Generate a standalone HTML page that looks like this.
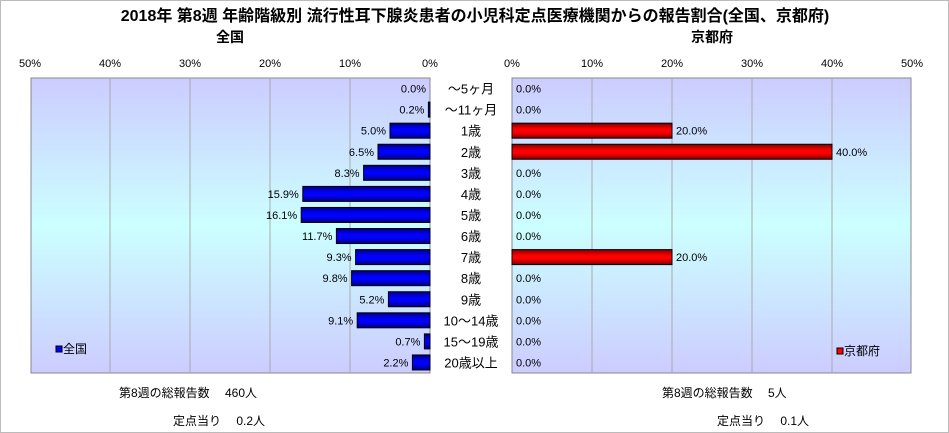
<!DOCTYPE html><html><head><meta charset="utf-8"><style>
body{margin:0;background:#fff;font-family:"Liberation Sans","Noto Sans CJK JP",sans-serif;}
#w{position:relative;width:947px;height:431px;border:1px solid #bbb;overflow:hidden}
</style></head><body><div id="w">
<svg id="s" width="947" height="431">
<defs>
<linearGradient id="bg" x1="0" y1="0" x2="0" y2="1"><stop offset="0" stop-color="#ccccff"/><stop offset="0.5" stop-color="#ccffff"/><stop offset="1" stop-color="#ccccff"/></linearGradient>
<linearGradient id="gb" x1="0" y1="0" x2="0" y2="1"><stop offset="0" stop-color="#000080"/><stop offset="0.4" stop-color="#0000ff"/><stop offset="0.6" stop-color="#0000ff"/><stop offset="1" stop-color="#000080"/></linearGradient>
<linearGradient id="gr" x1="0" y1="0" x2="0" y2="1"><stop offset="0" stop-color="#800000"/><stop offset="0.4" stop-color="#ff0000"/><stop offset="0.6" stop-color="#ff0000"/><stop offset="1" stop-color="#800000"/></linearGradient>
</defs>
<text x="474" y="20" font-size="16" font-weight="bold" text-anchor="middle">2018年 第8週 年齢階級別 流行性耳下腺炎患者の小児科定点医療機関からの報告割合(全国、京都府)</text>
<text x="229" y="41" font-size="14" font-weight="bold" text-anchor="middle">全国</text>
<text x="711" y="41" font-size="14" font-weight="bold" text-anchor="middle">京都府</text>
<g id="g"></g>
<text x="118" y="396" font-size="12">第8週の総報告数　 460人</text>
<text x="172" y="424" font-size="12">定点当り　 0.2人</text>
<text x="661" y="396" font-size="12">第8週の総報告数　 5人</text>
<text x="716" y="424" font-size="12">定点当り　 0.1人</text>
</svg></div>
<script>
const categories=["～5ヶ月","～11ヶ月","1歳","2歳","3歳","4歳","5歳","6歳","7歳","8歳","9歳","10～14歳","15～19歳","20歳以上"];
const nationalValues=[0.0,0.2,5.0,6.5,8.3,15.9,16.1,11.7,9.3,9.8,5.2,9.1,0.7,2.2];
const kyotoValues=[0,0,20,40,0,0,0,0,20,0,0,0,0,0];
const tickValues=[0,10,20,30,40,50];
const NS="http://www.w3.org/2000/svg",g=document.getElementById('g');
function el(t,a,txt){const e=document.createElementNS(NS,t);for(const k in a)e.setAttribute(k,a[k]);if(txt!=null)e.textContent=txt;g.appendChild(e);return e;}
const y0=77,y1=372,rowH=(y1-y0)/categories.length,kx=8;
const xl=v=>429-v*kx, xr=v=>511+v*kx, yc=i=>y0+rowH*(i+0.5);
let e;
e=el('rect',{x:30,y:y0,width:399,height:y1-y0,fill:'url(#bg)',stroke:'#888'});


e=el('rect',{x:511,y:y0,width:399,height:y1-y0,fill:'url(#bg)',stroke:'#888'});


tickValues.forEach(v=>{
 if(v>0&&v<50){el('line',{x1:xl(v),x2:xl(v),y1:y0,y2:y1,stroke:'#aaa'});el('line',{x1:xr(v),x2:xr(v),y1:y0,y2:y1,stroke:'#aaa'});}
 e=el('text',{x:xl(v),y:66,'font-size':11,'text-anchor':'middle'},v+'%');
 
 
 e=el('text',{x:xr(v),y:66,'font-size':11,'text-anchor':'middle'},v+'%');
 
 
});
el('rect',{x:430,y:y0-1,width:80,height:y1-y0+2,fill:'#fff'});
categories.forEach((c,i)=>{
 const y=yc(i),v=nationalValues[i],r=kyotoValues[i];
 e=el('text',{x:470,y:y+5,'font-size':13,'text-anchor':'middle'},c);
 
 
 if(v>0){e=el('rect',{x:xl(v),y:y-7.5,width:v*kx,height:15,fill:'url(#gb)',stroke:'#000'});
 
 }
 e=el('text',{x:xl(v)-4,y:y+4,'font-size':11,'text-anchor':'end'},v.toFixed(1)+'%');
 
 
 if(r>0){e=el('rect',{x:511,y:y-7.5,width:r*kx,height:15,fill:'url(#gr)',stroke:'#000'});
 
 }
 e=el('text',{x:xr(r)+4,y:y+4,'font-size':11},r.toFixed(1)+'%');
 
 
});
el('rect',{x:55,y:345,width:6,height:6,fill:'#0000ff',stroke:'#000'});
e=el('text',{x:62,y:352,'font-size':12},'全国');


el('rect',{x:836,y:347,width:6,height:6,fill:'#ff0000',stroke:'#000'});
e=el('text',{x:843,y:354,'font-size':12},'京都府');


</script></body></html>
